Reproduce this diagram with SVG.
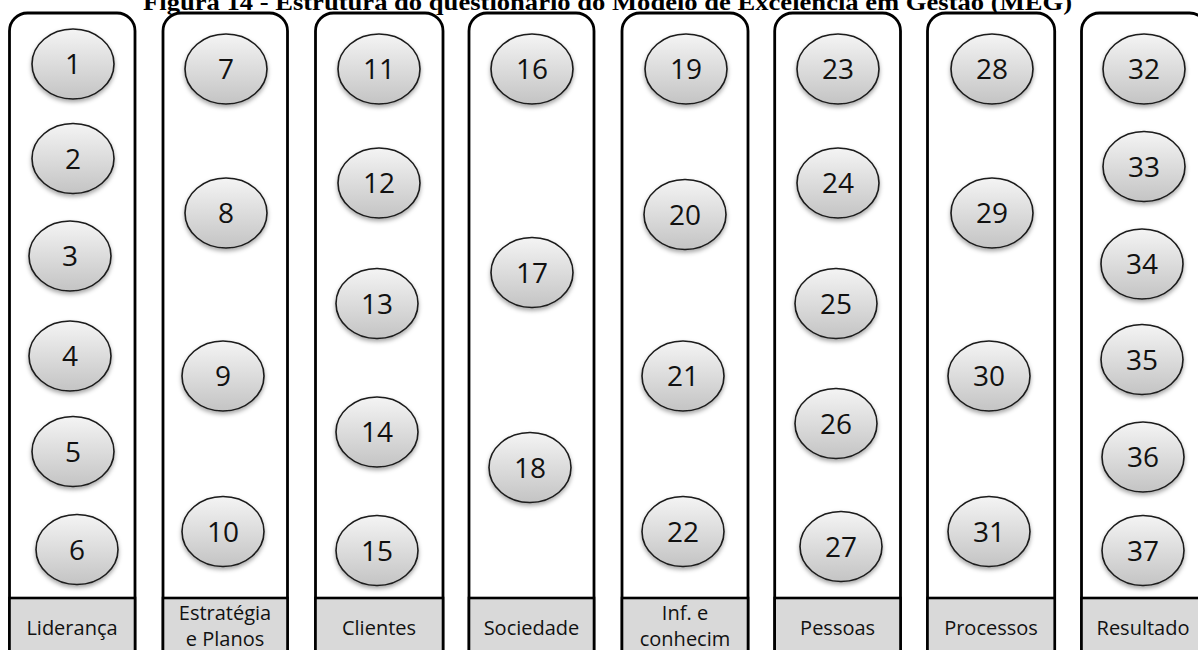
<svg xmlns="http://www.w3.org/2000/svg" width="1198" height="650" viewBox="0 0 1198 650">
<style>
.col{fill:#fff;stroke:#000;stroke-width:2.8}
.lab{fill:#d9d9d9;stroke:#000;stroke-width:2.6}
.lt{font-family:"Open Sans","Noto Sans",sans-serif;font-size:20px;fill:#111;text-anchor:middle}
.n ellipse{fill:url(#g);stroke:#1a1a1a;stroke-width:1.6;filter:url(#sh)}
.n text{font-family:"Open Sans","Noto Sans",sans-serif;font-size:28px;fill:#111;text-anchor:middle}
.title{font-family:"Liberation Serif","Times New Roman",serif;font-weight:bold;font-size:23px;fill:#000}
</style>
<defs>
<linearGradient id="g" x1="0" y1="0" x2="0" y2="1">
<stop offset="0" stop-color="#f4f4f4"/>
<stop offset="1" stop-color="#c4c4c4"/>
</linearGradient>
<filter id="sh" x="-20%" y="-20%" width="140%" height="150%">
<feDropShadow dx="0" dy="2.5" stdDeviation="2" flood-color="#000" flood-opacity="0.35"/>
</filter>
</defs>
<rect width="1198" height="650" fill="#fff"/>
<text class="title" x="143" y="10" textLength="929" lengthAdjust="spacingAndGlyphs">Figura 14 - Estrutura do questionário do Modelo de Excelência em Gestão (MEG)</text>

<g id="col-lideranca">
<path class="col" d="M9.5,660 V31 A18,18 0 0 1 27.5,13 H117 A18,18 0 0 1 135,31 V660"/>
<rect class="lab" x="9.5" y="598" width="125.5" height="62"/>
<text class="lt" x="72" y="635">Liderança</text>
</g>
<g id="col-estrategia">
<path class="col" d="M163,660 V31 A18,18 0 0 1 181,13 H269.5 A18,18 0 0 1 287.5,31 V660"/>
<rect class="lab" x="163" y="598" width="124.5" height="62"/>
<text class="lt" x="225" y="620">Estratégia</text>
<text class="lt" x="225" y="646">e Planos</text>
</g>
<g id="col-clientes">
<path class="col" d="M315.5,660 V31 A18,18 0 0 1 333.5,13 H425 A18,18 0 0 1 443,31 V660"/>
<rect class="lab" x="315.5" y="598" width="127.5" height="62"/>
<text class="lt" x="379" y="635">Clientes</text>
</g>
<g id="col-sociedade">
<path class="col" d="M469,660 V31 A18,18 0 0 1 487,13 H576 A18,18 0 0 1 594,31 V660"/>
<rect class="lab" x="469" y="598" width="125" height="62"/>
<text class="lt" x="531.5" y="635">Sociedade</text>
</g>
<g id="col-informacao">
<path class="col" d="M622,660 V31 A18,18 0 0 1 640,13 H730 A18,18 0 0 1 748,31 V660"/>
<rect class="lab" x="622" y="598" width="126" height="62"/>
<text class="lt" x="685" y="620">Inf. e</text>
<text class="lt" x="685" y="646">conhecim</text>
</g>
<g id="col-pessoas">
<path class="col" d="M774.7,660 V31 A18,18 0 0 1 792.7,13 H882.5 A18,18 0 0 1 900.5,31 V660"/>
<rect class="lab" x="774.7" y="598" width="125.8" height="62"/>
<text class="lt" x="837.6" y="635">Pessoas</text>
</g>
<g id="col-processos">
<path class="col" d="M927.5,660 V31 A18,18 0 0 1 945.5,13 H1036.7 A18,18 0 0 1 1054.7,31 V660"/>
<rect class="lab" x="927.5" y="598" width="127.2" height="62"/>
<text class="lt" x="991" y="635">Processos</text>
</g>
<g id="col-resultado">
<path class="col" d="M1081.5,660 V31 A18,18 0 0 1 1099.5,13 H1189.5 A18,18 0 0 1 1207.5,31 V660"/>
<rect class="lab" x="1081.5" y="598" width="126" height="62"/>
<text class="lt" x="1143" y="635">Resultado</text>
</g>

<g id="n1" class="n"><ellipse cx="73" cy="64" rx="41" ry="35"/><text x="73" y="74">1</text></g>
<g id="n2" class="n"><ellipse cx="73" cy="158.5" rx="41" ry="35"/><text x="73" y="168.5">2</text></g>
<g id="n3" class="n"><ellipse cx="70" cy="256" rx="41" ry="35"/><text x="70" y="266">3</text></g>
<g id="n4" class="n"><ellipse cx="70" cy="356" rx="41" ry="35"/><text x="70" y="366">4</text></g>
<g id="n5" class="n"><ellipse cx="73" cy="451.5" rx="41" ry="35"/><text x="73" y="461.5">5</text></g>
<g id="n6" class="n"><ellipse cx="77" cy="549.5" rx="41" ry="35"/><text x="77" y="559.5">6</text></g>

<g id="n7" class="n"><ellipse cx="226" cy="69" rx="41" ry="35"/><text x="226" y="79">7</text></g>
<g id="n8" class="n"><ellipse cx="226" cy="213" rx="41" ry="35"/><text x="226" y="223">8</text></g>
<g id="n9" class="n"><ellipse cx="223" cy="376" rx="41" ry="35"/><text x="223" y="386">9</text></g>
<g id="n10" class="n"><ellipse cx="223" cy="531.5" rx="41" ry="35"/><text x="223" y="541.5">10</text></g>

<g id="n11" class="n"><ellipse cx="379" cy="69" rx="41" ry="35"/><text x="379" y="79">11</text></g>
<g id="n12" class="n"><ellipse cx="379" cy="183" rx="41" ry="35"/><text x="379" y="193">12</text></g>
<g id="n13" class="n"><ellipse cx="377" cy="303.5" rx="41" ry="35"/><text x="377" y="313.5">13</text></g>
<g id="n14" class="n"><ellipse cx="377" cy="432" rx="41" ry="35"/><text x="377" y="442">14</text></g>
<g id="n15" class="n"><ellipse cx="377" cy="550.5" rx="41" ry="35"/><text x="377" y="560.5">15</text></g>

<g id="n16" class="n"><ellipse cx="532" cy="69" rx="41" ry="35"/><text x="532" y="79">16</text></g>
<g id="n17" class="n"><ellipse cx="532" cy="272.5" rx="41" ry="35"/><text x="532" y="282.5">17</text></g>
<g id="n18" class="n"><ellipse cx="530" cy="467.5" rx="41" ry="35"/><text x="530" y="477.5">18</text></g>

<g id="n19" class="n"><ellipse cx="686" cy="69" rx="41" ry="35"/><text x="686" y="79">19</text></g>
<g id="n20" class="n"><ellipse cx="685" cy="214.5" rx="41" ry="35"/><text x="685" y="224.5">20</text></g>
<g id="n21" class="n"><ellipse cx="683" cy="376" rx="41" ry="35"/><text x="683" y="386">21</text></g>
<g id="n22" class="n"><ellipse cx="683" cy="531.5" rx="41" ry="35"/><text x="683" y="541.5">22</text></g>

<g id="n23" class="n"><ellipse cx="838" cy="69" rx="41" ry="35"/><text x="838" y="79">23</text></g>
<g id="n24" class="n"><ellipse cx="838" cy="183" rx="41" ry="35"/><text x="838" y="193">24</text></g>
<g id="n25" class="n"><ellipse cx="836" cy="303.5" rx="41" ry="35"/><text x="836" y="313.5">25</text></g>
<g id="n26" class="n"><ellipse cx="836" cy="423.5" rx="41" ry="35"/><text x="836" y="433.5">26</text></g>
<g id="n27" class="n"><ellipse cx="841" cy="546.5" rx="41" ry="35"/><text x="841" y="556.5">27</text></g>

<g id="n28" class="n"><ellipse cx="992" cy="69" rx="41" ry="35"/><text x="992" y="79">28</text></g>
<g id="n29" class="n"><ellipse cx="992" cy="213" rx="41" ry="35"/><text x="992" y="223">29</text></g>
<g id="n30" class="n"><ellipse cx="989" cy="376" rx="41" ry="35"/><text x="989" y="386">30</text></g>
<g id="n31" class="n"><ellipse cx="989" cy="531.5" rx="41" ry="35"/><text x="989" y="541.5">31</text></g>

<g id="n32" class="n"><ellipse cx="1144" cy="69" rx="41" ry="35"/><text x="1144" y="79">32</text></g>
<g id="n33" class="n"><ellipse cx="1144" cy="166.5" rx="41" ry="35"/><text x="1144" y="176.5">33</text></g>
<g id="n34" class="n"><ellipse cx="1142" cy="264" rx="41" ry="35"/><text x="1142" y="274">34</text></g>
<g id="n35" class="n"><ellipse cx="1142" cy="359.5" rx="41" ry="35"/><text x="1142" y="369.5">35</text></g>
<g id="n36" class="n"><ellipse cx="1143" cy="457" rx="41" ry="35"/><text x="1143" y="467">36</text></g>
<g id="n37" class="n"><ellipse cx="1143" cy="550.5" rx="41" ry="35"/><text x="1143" y="560.5">37</text></g>
</svg>
